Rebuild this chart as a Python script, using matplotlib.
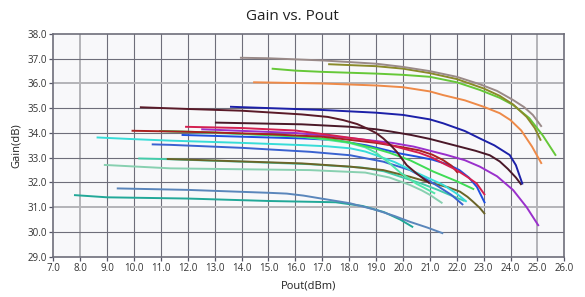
import matplotlib
matplotlib.use("Agg")
from matplotlib import pyplot as plt

# Pout (dBm) / Gain (dB) pairs, one curve per device
gray_x = [13.94, 15.0, 17.04, 19.0, 20.0, 21.0, 22.0, 22.86, 23.5, 24.1, 24.5, 24.83, 25.16]
gray_y = [37.04, 37.02, 36.93, 36.8, 36.67, 36.5, 36.27, 35.97, 35.7, 35.33, 35.05, 34.73, 34.25]

olive2_x = [17.22, 19.0, 20.0, 21.0, 22.0, 23.0, 23.6, 24.1, 24.6, 24.9, 25.13]
olive2_y = [36.78, 36.7, 36.6, 36.42, 36.18, 35.8, 35.5, 35.15, 34.65, 34.2, 33.69]

green_x = [15.12, 16.0, 17.0, 19.0, 20.0, 21.0, 22.0, 22.86, 23.6, 24.1, 24.7, 25.2, 25.69]
green_y = [36.6, 36.52, 36.47, 36.4, 36.35, 36.27, 36.05, 35.74, 35.42, 35.13, 34.6, 33.9, 33.08]

orange_x = [14.43, 17.0, 19.0, 20.0, 21.0, 21.5, 22.3, 23.0, 23.6, 24.0, 24.4, 24.8, 25.16]
orange_y = [36.05, 36.0, 35.92, 35.85, 35.68, 35.53, 35.32, 35.06, 34.8, 34.52, 34.1, 33.45, 32.75]

navy_x = [13.57, 17.0, 19.0, 20.0, 21.0, 21.5, 22.3, 22.86, 23.4, 23.97, 24.2, 24.45]
navy_y = [35.06, 34.93, 34.82, 34.73, 34.55, 34.39, 34.08, 33.78, 33.5, 33.11, 32.7, 31.92]

maroon_x = [10.22, 12.0, 14.0, 16.24, 17.2, 17.78, 18.3, 18.65, 19.0, 19.27, 19.55, 19.77, 20.14, 20.5, 21.0]
maroon_y = [35.04, 34.97, 34.9, 34.75, 34.65, 34.52, 34.36, 34.19, 34.0, 33.78, 33.5, 33.24, 32.7, 32.37, 31.96]

maroon2_x = [13.01, 16.24, 18.04, 19.0, 19.6, 20.3, 21.0, 22.1, 22.7, 23.23, 23.6, 23.9, 24.2, 24.41]
maroon2_y = [34.42, 34.35, 34.25, 34.15, 34.05, 33.92, 33.76, 33.45, 33.28, 33.1, 32.85, 32.55, 32.2, 31.9]

brick_x = [9.91, 12.0, 15.0, 17.0, 19.0, 20.0, 20.6, 21.1, 21.5, 21.8, 22.05]
brick_y = [34.09, 34.05, 33.95, 33.85, 33.6, 33.42, 33.3, 33.12, 32.9, 32.68, 32.38]

purple_x = [12.5, 16.0, 18.0, 19.6, 20.4, 21.6, 22.3, 22.86, 23.5, 24.1, 24.6, 25.05]
purple_y = [34.15, 34.0, 33.8, 33.6, 33.45, 33.12, 32.9, 32.64, 32.25, 31.69, 31.0, 30.24]

crimson_x = [11.9, 14.0, 16.0, 17.4, 18.6, 19.3, 19.9, 20.6, 21.1, 21.5, 22.0, 22.4, 22.74, 23.05]
crimson_y = [34.25, 34.2, 34.1, 33.9, 33.72, 33.58, 33.4, 33.2, 33.0, 32.77, 32.5, 32.22, 31.96, 31.49]

mint_x = [10.94, 13.0, 16.0, 17.0, 18.0, 18.6, 19.0, 19.5, 19.9, 20.5, 21.2]
mint_y = [34.08, 34.0, 33.88, 33.75, 33.6, 33.42, 33.2, 32.78, 32.4, 31.95, 31.55]

lime_x = [10.94, 13.0, 16.24, 17.2, 18.0, 19.0, 19.5, 20.26, 21.13, 22.0, 22.65]
lime_y = [34.08, 34.02, 33.85, 33.76, 33.62, 33.36, 33.2, 32.9, 32.44, 32.05, 31.72]

royal_x = [11.77, 14.0, 16.24, 17.4, 18.65, 19.3, 19.9, 20.5, 21.1, 21.7, 22.1, 22.45, 22.75, 23.05]
royal_y = [33.92, 33.85, 33.78, 33.72, 33.5, 33.33, 33.17, 33.05, 32.92, 32.72, 32.5, 32.2, 31.82, 31.16]

cyan_x = [8.61, 10.0, 11.36, 14.0, 16.24, 17.2, 18.04, 18.6, 19.0, 19.7, 20.3, 21.0, 21.5, 22.0, 22.37]
cyan_y = [33.82, 33.75, 33.69, 33.6, 33.51, 33.46, 33.38, 33.25, 33.1, 32.82, 32.5, 32.15, 31.9, 31.55, 31.22]

mblue_x = [10.66, 11.36, 14.0, 16.54, 18.04, 19.27, 20.26, 20.8, 21.3, 21.8, 22.24]
mblue_y = [33.54, 33.52, 33.4, 33.24, 33.1, 32.84, 32.5, 32.18, 31.85, 31.5, 31.09]

aqua_x = [10.16, 11.3, 14.0, 16.5, 18.5, 19.3, 20.0, 20.7, 21.3, 21.8, 22.3]
aqua_y = [32.97, 32.94, 32.84, 32.74, 32.6, 32.45, 32.2, 31.95, 31.7, 31.47, 31.25]

olive_x = [11.22, 14.0, 16.24, 18.04, 19.27, 20.26, 21.13, 21.7, 22.12, 22.4, 22.61, 22.85, 23.05]
olive_y = [32.95, 32.85, 32.77, 32.64, 32.5, 32.23, 31.96, 31.8, 31.63, 31.42, 31.22, 30.98, 30.72]

seagreen_x = [8.88, 11.36, 16.54, 18.6, 19.5, 20.26, 20.7, 21.0, 21.47]
seagreen_y = [32.71, 32.57, 32.5, 32.4, 32.2, 31.9, 31.68, 31.5, 31.16]

steel_x = [9.36, 12.0, 15.06, 15.68, 16.3, 16.91, 18.03, 19.0, 19.7, 20.26, 20.9, 21.5]
steel_y = [31.76, 31.7, 31.58, 31.55, 31.47, 31.36, 31.16, 30.89, 30.64, 30.41, 30.18, 29.94]

teal_x = [7.77, 9.0, 12.0, 15.06, 17.5, 18.5, 19.3, 19.9, 20.38]
teal_y = [31.49, 31.4, 31.35, 31.25, 31.2, 31.05, 30.8, 30.5, 30.19]

curves = [
    (teal_x, teal_y, "#22a898"),
    (steel_x, steel_y, "#5a86bb"),
    (seagreen_x, seagreen_y, "#88d0b0"),
    (aqua_x, aqua_y, "#44ccaa"),
    (olive_x, olive_y, "#6b6428"),
    (mblue_x, mblue_y, "#3a62d0"),
    (cyan_x, cyan_y, "#38dcd8"),
    (royal_x, royal_y, "#1f4fe0"),
    (mint_x, mint_y, "#50e6a8"),
    (lime_x, lime_y, "#3fdc55"),
    (purple_x, purple_y, "#9a30cc"),
    (brick_x, brick_y, "#aa2020"),
    (crimson_x, crimson_y, "#d42050"),
    (maroon2_x, maroon2_y, "#4a1828"),
    (maroon_x, maroon_y, "#5a1a28"),
    (navy_x, navy_y, "#1c20a8"),
    (orange_x, orange_y, "#ee8a48"),
    (green_x, green_y, "#66c838"),
    (olive2_x, olive2_y, "#8a8a2a"),
    (gray_x, gray_y, "#9a8a88"),
]

plt.rcParams["font.family"] = ["Open Sans", "DejaVu Sans"]

fig = plt.figure(figsize=(5.85, 2.97), dpi=100)
ax = fig.add_axes([0.0911, 0.1357, 0.8735, 0.7498])
ax.set_facecolor("#f8f8fa")

ax.set_xlim(7.0, 26.0)
ax.set_ylim(29.0, 38.0)
xt = [7.0 + i for i in range(20)]
yt = [29.0 + i for i in range(10)]
ax.set_xticks(xt)
ax.set_yticks(yt)
ax.set_xticklabels([f"{v:.1f}" for v in xt], fontsize=7, color="#333333")
ax.set_yticklabels([f"{v:.1f}" for v in yt], fontsize=7, color="#333333")
ax.tick_params(direction="out", length=3, width=0.9, color="#555566", pad=1.5)

# grid, a few lines render lighter in the original
light_x = [8.0, 25.0]
light_y = [31.0, 36.0]
for v in xt[1:-1]:
    if v in light_x:
        ax.axvline(v, color="#b4b4b8", lw=1.4, zorder=0)
    else:
        ax.axvline(v, color="#6e6e7a", lw=0.8, zorder=0)
for v in yt[1:-1]:
    if v in light_y:
        ax.axhline(v, color="#b4b4b8", lw=1.4, zorder=0)
    else:
        ax.axhline(v, color="#6e6e7a", lw=0.8, zorder=0)

for sp in ax.spines.values():
    sp.set_color("#6e6e7a")
    sp.set_linewidth(1.2)

for x, y, c in curves:
    ax.plot(x, y, color=c, lw=1.4, solid_capstyle="butt", solid_joinstyle="round")

fig.text(0.5, 0.945, "Gain vs. Pout", ha="center", va="center", fontsize=11, color="#222222")
ax.set_xlabel("Pout(dBm)", fontsize=8, color="#222222", labelpad=5)
ax.set_ylabel("Gain(dB)", fontsize=8, color="#222222", labelpad=4)

plt.savefig("out.png", dpi=100)
plt.close()
